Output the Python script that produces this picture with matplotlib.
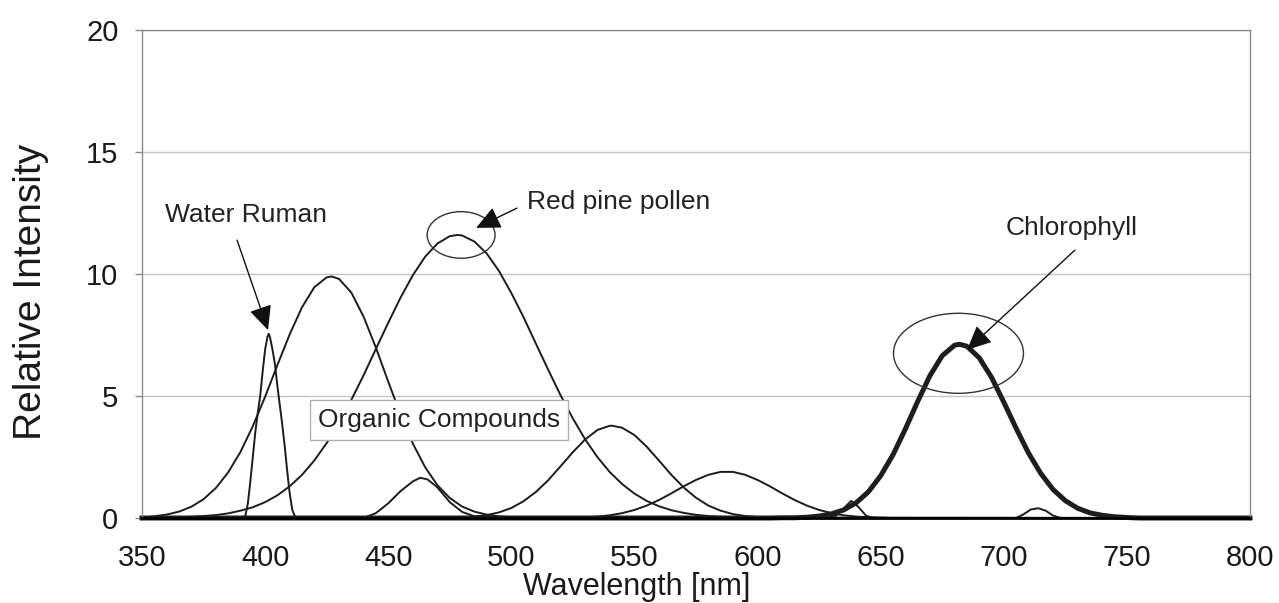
import matplotlib
matplotlib.use("Agg")
import matplotlib.pyplot as plt
from matplotlib.patches import Ellipse
from matplotlib.patches import ArrowStyle

plt.rcParams['font.family'] = ['Liberation Sans', 'DejaVu Sans']

# ---------------- data ----------------
x_ticks = [350, 400, 450, 500, 550, 600, 650, 700, 750, 800]
y_ticks = [0, 5, 10, 15, 20]

water_nm = [350, 388, 391, 392, 393, 394, 395, 396, 397, 398, 399, 400, 401, 401.5,
            402, 403, 404, 405, 406, 407, 408, 409, 410, 411, 412, 413, 416, 800]
water_int = [0, 0, 0.02, 0.1, 0.6, 1.5, 2.5, 3.5, 4.3, 5.0, 6.0, 6.9, 7.45, 7.55,
             7.4, 6.9, 6.3, 5.4, 4.6, 3.8, 2.9, 1.9, 1.0, 0.35, 0.08, 0.01, 0, 0]

organic_nm = [350, 355, 360, 365, 370, 375, 380, 385, 390, 395, 400, 405, 410, 415,
              420, 425, 427, 430, 435, 440, 445, 450, 455, 460, 465, 470, 475, 480,
              485, 490, 495, 500, 505, 800]
organic_int = [0, 0.07, 0.14, 0.26, 0.46, 0.77, 1.23, 1.87, 2.71, 3.76, 4.97, 6.27, 7.53, 8.64,
               9.46, 9.86, 9.9, 9.80, 9.24, 8.25, 6.98, 5.59, 4.24, 3.05, 2.08, 1.34, 0.82, 0.47,
               0.26, 0.14, 0.07, 0.03, 0.01, 0]

pollen_nm = [350, 365, 370, 375, 380, 385, 390, 395, 400, 405, 410, 415, 420, 425, 430,
             435, 440, 445, 450, 455, 460, 465, 470, 475, 478, 480, 485, 490, 495, 500,
             505, 510, 515, 520, 525, 530, 535, 540, 545, 550, 555, 560, 565, 570, 575,
             580, 585, 590, 600, 800]
pollen_int = [0, 0.02, 0.05, 0.08, 0.12, 0.19, 0.30, 0.44, 0.65, 0.93, 1.30, 1.77, 2.36, 3.07, 3.90,
              4.84, 5.85, 6.93, 8.00, 9.03, 9.95, 10.71, 11.25, 11.55, 11.6, 11.58, 11.33, 10.84, 10.12, 9.22,
              8.22, 7.14, 6.07, 5.03, 4.08, 3.22, 2.49, 1.88, 1.39, 1.00, 0.70, 0.48, 0.32, 0.21, 0.13,
              0.08, 0.05, 0.03, 0.01, 0]

peak463_nm = [350, 440, 445, 450, 455, 460, 463, 466, 470, 475, 480, 485, 490, 800]
peak463_int = [0, 0, 0.2, 0.6, 1.1, 1.5, 1.65, 1.58, 1.25, 0.65, 0.25, 0.07, 0, 0]

peak540_nm = [350, 475, 480, 485, 490, 495, 500, 505, 510, 515, 520, 525, 530, 535, 540,
              541, 545, 550, 555, 560, 565, 570, 575, 580, 585, 590, 595, 600, 610, 800]
peak540_int = [0, 0, 0.03, 0.06, 0.12, 0.23, 0.41, 0.69, 1.07, 1.55, 2.12, 2.70, 3.22, 3.61, 3.78,
               3.78, 3.70, 3.40, 2.92, 2.35, 1.77, 1.25, 0.83, 0.51, 0.30, 0.16, 0.08, 0.04, 0.01, 0]

peak587_nm = [350, 520, 525, 530, 535, 540, 545, 550, 555, 560, 565, 570, 575, 580, 585,
              590, 595, 600, 605, 610, 615, 620, 625, 630, 635, 640, 645, 655, 800]
peak587_int = [0, 0, 0.01, 0.03, 0.06, 0.11, 0.20, 0.33, 0.51, 0.74, 1.01, 1.30, 1.56, 1.77, 1.89,
               1.89, 1.77, 1.56, 1.30, 1.01, 0.74, 0.51, 0.33, 0.20, 0.11, 0.06, 0.03, 0, 0]

peak638_nm = [350, 628, 632, 635, 638, 641, 644, 647, 800]
peak638_int = [0, 0, 0.1, 0.4, 0.7, 0.45, 0.1, 0, 0]

chl_nm = [350, 605, 610, 615, 620, 625, 630, 635, 640, 645, 650, 655, 660, 665, 670, 675, 680,
          682, 685, 690, 695, 700, 705, 710, 715, 720, 725, 730, 735, 740, 745, 750, 755, 800]
chl_int = [0, 0, 0.01, 0.01, 0.03, 0.08, 0.17, 0.33, 0.62, 1.07, 1.73, 2.59, 3.64, 4.77, 5.83, 6.65, 7.08,
           7.12, 7.04, 6.57, 5.77, 4.75, 3.68, 2.67, 1.83, 1.17, 0.71, 0.40, 0.21, 0.11, 0.05, 0.02, 0, 0]

peak713_nm = [350, 705, 708, 711, 714, 717, 720, 723, 800]
peak713_int = [0, 0, 0.15, 0.35, 0.4, 0.3, 0.1, 0, 0]

# ---------------- figure ----------------
W, H = 1279, 603
fig = plt.figure(figsize=(W / 100, H / 100), dpi=100)
L, R, T, B = 142, 1250, 30, 518
ax = fig.add_axes([L / W, 1 - B / H, (R - L) / W, (B - T) / H])

ax.set_xlim(350, 800)
ax.set_ylim(0, 20)
ax.set_xticks(x_ticks)
ax.set_yticks(y_ticks)
ax.yaxis.grid(True, color='#c4c4c4', lw=1)
ax.set_axisbelow(True)
ax.tick_params(axis='x', length=0, pad=19, labelsize=21, labelcolor='#1a1a1a')
ax.tick_params(axis='y', length=5, width=1, color='#888888', pad=12, labelsize=21,
               labelcolor='#1a1a1a')
for s in ['left', 'top', 'right']:
    ax.spines[s].set_color('#8a8a8a')
    ax.spines[s].set_linewidth(1)
ax.spines['bottom'].set_color('black')
ax.spines['bottom'].set_linewidth(2)

thin = dict(color='#1c1c1c', lw=1.4, clip_on=False, solid_joinstyle='round')
for xs, ys in [(water_nm, water_int), (organic_nm, organic_int), (pollen_nm, pollen_int),
               (peak463_nm, peak463_int), (peak540_nm, peak540_int),
               (peak587_nm, peak587_int), (peak638_nm, peak638_int),
               (peak713_nm, peak713_int)]:
    ax.plot(xs, ys, **thin)
ax.plot(chl_nm, chl_int, color='#1e1e1e', lw=3.6, clip_on=False, solid_joinstyle='round')

# ellipses
ax.add_patch(Ellipse((479.6, 11.6), 27.6, 1.91, fill=False, ec='#333333', lw=1, zorder=4))
ax.add_patch(Ellipse((681.6, 6.75), 52.8, 3.28, fill=False, ec='#333333', lw=1, zorder=4))

# arrows
ast = ArrowStyle('-|>', head_length=0.75, head_width=0.35)
arrow_kw = dict(arrowstyle=ast, color='#111111', lw=1, mutation_scale=20,
                shrinkA=0, shrinkB=0)
ax.annotate('', xy=(401.2, 7.70), xytext=(388.6, 11.39), arrowprops=arrow_kw, zorder=5)
ax.annotate('', xy=(485.7, 11.89), xytext=(502.3, 12.70), arrowprops=arrow_kw, zorder=5)
ax.annotate('', xy=(685.1, 6.89), xytext=(728.9, 10.98), arrowprops=arrow_kw, zorder=5)

# annotation texts
tk = dict(fontsize=19, color='#222222', ha='center', va='center', zorder=6)
ax.text(392.2, 12.42, 'Water Ruman', **tk)
ax.text(543.7, 12.95, 'Red pine pollen', **tk)
ax.text(727.7, 11.89, 'Chlorophyll', **tk)
ax.text(470.6, 4.02, 'Organic Compounds',
        bbox=dict(boxstyle='square,pad=0.3', fc='white', ec='#b0b0b0', lw=1), **tk)

# axis labels
fig.text(31 / W, 1 - 292 / H, 'Relative Intensity', rotation=90, ha='center', va='center',
         fontsize=28, color='#1a1a1a')
fig.text(637 / W, 1 - 595 / H, 'Wavelength [nm]', ha='center', va='baseline',
         fontsize=22, color='#1a1a1a')

fig.savefig('out.png', dpi=100)
